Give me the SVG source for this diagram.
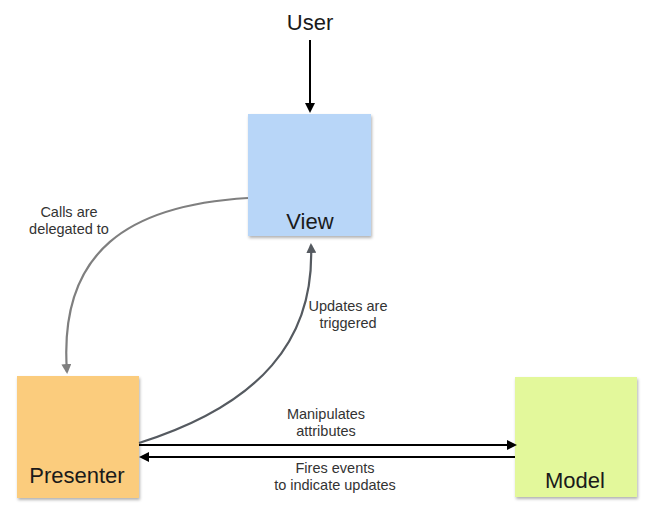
<svg xmlns="http://www.w3.org/2000/svg" width="648" height="505" viewBox="0 0 648 505">
<defs>
<filter id="sh" x="-10%" y="-10%" width="130%" height="130%">
<feDropShadow dx="1" dy="2" stdDeviation="1.5" flood-color="#000" flood-opacity="0.3"/>
</filter>
<marker id="ab" markerWidth="10" markerHeight="10" refX="8" refY="5" orient="auto" markerUnits="userSpaceOnUse">
<path d="M0,0 L10,5 L0,10 z" fill="#000"/>
</marker>
<marker id="ag" markerWidth="10" markerHeight="10" refX="8" refY="5" orient="auto" markerUnits="userSpaceOnUse">
<path d="M0,0 L10,5 L0,10 z" fill="#7f7f7f"/>
</marker>
<marker id="ad" markerWidth="10" markerHeight="10" refX="8" refY="5" orient="auto" markerUnits="userSpaceOnUse">
<path d="M0,0 L10,5 L0,10 z" fill="#555a60"/>
</marker>
</defs>
<style>
.big{font-family:"Liberation Sans",Arial,sans-serif;font-size:22px;fill:#1a1a1a;text-anchor:middle}
.lbl{font-family:"Liberation Sans",Arial,sans-serif;font-size:14.5px;fill:#333;text-anchor:middle}
.box{filter:url(#sh)}
</style>
<rect width="648" height="505" fill="#fff"/>
<g id="user"><text class="big" x="310" y="30">User</text></g>
<g id="view"><rect class="box" x="248" y="114" width="123" height="122" fill="#b8d6f8"/><text class="big" x="310" y="229">View</text></g>
<g id="presenter"><rect class="box" x="17" y="376" width="122" height="122" fill="#fbcc7d"/><text class="big" x="77" y="483">Presenter</text></g>
<g id="model"><rect class="box" x="515" y="377" width="122" height="120" fill="#e3f89b"/><text class="big" x="575" y="488">Model</text></g>
<g id="connectors" fill="none">
<path d="M310,40 L310,111" stroke="#000" stroke-width="2" marker-end="url(#ab)"/>
<path d="M248,198 C130,205 58,250 67,372" stroke="#7f7f7f" stroke-width="2.2" marker-end="url(#ag)"/>
<path d="M139,443 C260,405 315,340 311,245" stroke="#555a60" stroke-width="2.2" marker-end="url(#ad)"/>
<path d="M139,445 L515,445" stroke="#000" stroke-width="2" marker-end="url(#ab)"/>
<path d="M515,457 L141,457" stroke="#000" stroke-width="2" marker-end="url(#ab)"/>
</g>
<g id="labels">
<text class="lbl" x="69" y="217">Calls are</text>
<text class="lbl" x="69" y="234">delegated to</text>
<text class="lbl" x="348" y="311">Updates are</text>
<text class="lbl" x="348" y="328">triggered</text>
<text class="lbl" x="326" y="419">Manipulates</text>
<text class="lbl" x="326" y="436">attributes</text>
<text class="lbl" x="335" y="473">Fires events</text>
<text class="lbl" x="335" y="490">to indicate updates</text>
</g>
</svg>
